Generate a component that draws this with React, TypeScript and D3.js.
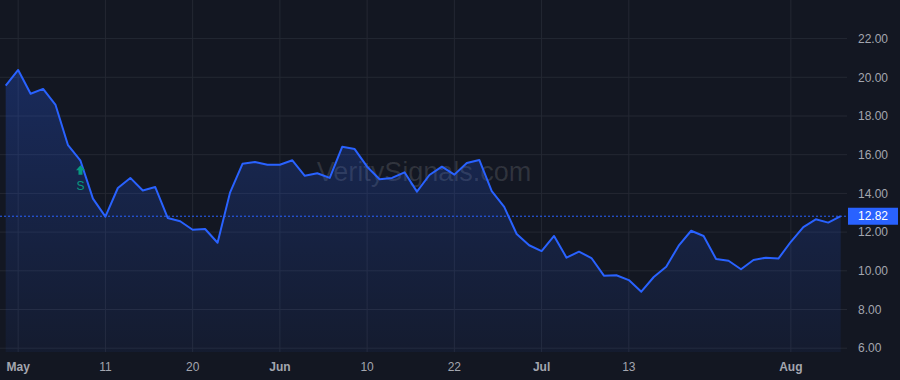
import React from "react";
import * as d3 from "d3";

const values: number[] = [
  19.57, 20.38, 19.15, 19.4, 18.57, 16.49, 15.69, 13.73, 12.8, 14.28,
  14.8, 14.15, 14.33, 12.73, 12.56, 12.12, 12.16, 11.45, 14.04, 15.53,
  15.62, 15.48, 15.48, 15.71, 14.91, 15.04, 14.8, 16.41, 16.29, 15.38,
  14.73, 14.8, 15.09, 14.09, 14.95, 15.38, 14.97, 15.57, 15.73, 14.12,
  13.3, 11.9, 11.32, 11.02, 11.8, 10.68, 10.99, 10.66, 9.75, 9.77,
  9.52, 8.92, 9.68, 10.21, 11.3, 12.07, 11.8, 10.61, 10.52, 10.08,
  10.56, 10.68, 10.63, 11.5, 12.26, 12.66, 12.49, 12.82,
];

const xTickIndex: number[] = [1, 8, 15, 22, 29, 36, 43, 50, 63];
const xTickLabels: string[] = ["May", "11", "20", "Jun", "10", "22", "Jul", "13", "Aug"];
const xTickBold: boolean[] = [true, false, false, true, false, false, true, false, true];
const yTicks: number[] = [6, 8, 10, 12, 14, 16, 18, 20, 22];
const lastPrice = 12.82;
const signalIndex = 6;
const signalLabel = "S";
const watermark = "VeritySignals.com";

const W = 900;
const H = 380;
const plotRight = 847;
const plotBottom = 352;

export default function App() {
  const x = d3.scaleLinear().domain([0, values.length - 1]).range([5.7, 840.7]);
  const y = d3.scaleLinear().domain([6, 22]).range([348.2, 38.6]);

  const line = d3
    .line<number>()
    .x((_, i) => x(i))
    .y((d) => y(d));
  const area = d3
    .area<number>()
    .x((_, i) => x(i))
    .y0(plotBottom)
    .y1((d) => y(d));

  const font = "'Liberation Sans', Arial, sans-serif";
  const textColor = "#a3a6af";
  const sx = x(signalIndex);
  const sy = y(values[signalIndex]);

  return (
    <svg
      width={W}
      height={H}
      style={{ position: "absolute", left: 0, top: 0, display: "block" }}
    >
      <defs>
        <linearGradient id="areaGrad" x1="0" y1="0" x2="0" y2="1" gradientUnits="objectBoundingBox">
          <stop offset="0%" stopColor="#2962ff" stopOpacity={0.26} />
          <stop offset="100%" stopColor="#2962ff" stopOpacity={0.06} />
        </linearGradient>
      </defs>
      <rect x={0} y={0} width={W} height={H} fill="#131722" />

      {/* grid */}
      {yTicks.map((t) => (
        <line key={"gy" + t} x1={0} x2={plotRight} y1={y(t)} y2={y(t)} stroke="#242833" strokeWidth={1} />
      ))}
      {xTickIndex.map((i) => (
        <line key={"gx" + i} x1={x(i)} x2={x(i)} y1={0} y2={plotBottom} stroke="#242833" strokeWidth={1} />
      ))}

      {/* watermark */}
      <text
        x={424}
        y={181}
        textAnchor="middle"
        fontFamily={font}
        fontSize={27}
        fill="#ffffff"
        fillOpacity={0.13}
      >
        {watermark}
      </text>

      {/* area + line */}
      <path d={area(values) || ""} fill="url(#areaGrad)" />
      <path d={line(values) || ""} fill="none" stroke="#2962ff" strokeWidth={2} strokeLinejoin="round" />

      {/* last price line */}
      <line
        x1={0}
        x2={plotRight}
        y1={y(lastPrice)}
        y2={y(lastPrice)}
        stroke="#2962ff"
        strokeWidth={1}
        strokeDasharray="2 2"
      />

      {/* signal marker */}
      <g fill="#089981">
        <path
          d={`M${sx},${sy + 4.5} L${sx + 4.5},${sy + 9.5} L${sx + 2},${sy + 9.5} L${sx + 2},${sy + 14} L${sx - 2},${sy + 14} L${sx - 2},${sy + 9.5} L${sx - 4.5},${sy + 9.5} Z`}
        />
        <text x={sx} y={sy + 29} textAnchor="middle" fontFamily={font} fontSize={12}>
          {signalLabel}
        </text>
      </g>

      {/* y axis labels */}
      {yTicks.map((t) => (
        <text
          key={"yl" + t}
          x={858}
          y={y(t)}
          dy="0.35em"
          fontFamily={font}
          fontSize={12}
          fill={textColor}
        >
          {t.toFixed(2)}
        </text>
      ))}

      {/* last price badge */}
      <rect x={848} y={y(lastPrice) - 8.5} width={50} height={17} fill="#2962ff" />
      <text
        x={858}
        y={y(lastPrice)}
        dy="0.35em"
        fontFamily={font}
        fontSize={12}
        fill="#ffffff"
      >
        {lastPrice.toFixed(2)}
      </text>

      {/* x axis labels */}
      {xTickIndex.map((i, k) => (
        <text
          key={"xl" + i}
          x={x(i)}
          y={371}
          textAnchor="middle"
          fontFamily={font}
          fontSize={12}
          fontWeight={xTickBold[k] ? "bold" : "normal"}
          fill={textColor}
        >
          {xTickLabels[k]}
        </text>
      ))}
    </svg>
  );
}
